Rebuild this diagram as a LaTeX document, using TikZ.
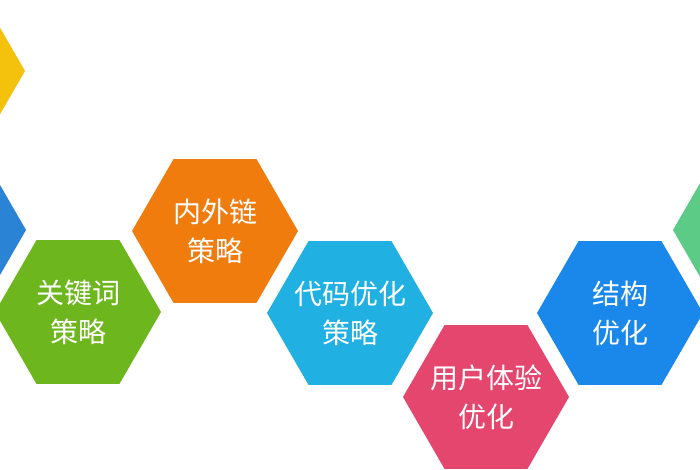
\documentclass[tikz,border=0pt]{standalone}
\usepackage{fontspec}
\usepackage{tikz}
\usetikzlibrary{shapes.geometric}
\newfontfamily\cjk{Noto Sans CJK SC}
\definecolor{hexYellow}{RGB}{244, 194, 13}
\definecolor{hexBlueLeft}{RGB}{43, 131, 214}
\definecolor{hexGreen}{RGB}{110, 182, 30}
\definecolor{hexOrange}{RGB}{240, 124, 14}
\definecolor{hexCyan}{RGB}{32, 176, 225}
\definecolor{hexPink}{RGB}{228, 70, 110}
\definecolor{hexBlue}{RGB}{26, 135, 234}
\definecolor{hexMint}{RGB}{92, 203, 134}

\begin{document}
\begin{tikzpicture} [
        x=1pt, y=-1pt,
        hex/.style={regular polygon, regular polygon sides=6, minimum size=166pt, inner sep=0pt},
        hex text/.style={text=white, font=\cjk\fontsize{28pt}{39pt}\selectfont, align=center, inner sep=0pt},
    ]

    \useasboundingbox (0,0) rectangle (700,470);
    \clip (0,0) rectangle (700,470);
    \fill[white] (0,0) rectangle (700,470);

    \node[hex, fill=hexYellow]   (seo)       at (-58, 71)  {};
    \node[hex, fill=hexBlueLeft] (site)      at (-57, 230) {};
    \node[hex, fill=hexGreen]    (keyword)   at (78, 312)  {};
    \node[hex, fill=hexOrange]   (links)     at (215, 231) {};
    \node[hex, fill=hexCyan]     (code)      at (350, 313) {};
    \node[hex, fill=hexPink]     (ux)        at (486, 397) {};
    \node[hex, fill=hexBlue]     (structure) at (620, 313) {};
    \node[hex, fill=hexMint]     (content)   at (756, 230) {};

    \node[hex text] at (keyword)   {关键词\\策略};
    \node[hex text] at (links)     {内外链\\策略};
    \node[hex text] at (code)      {代码优化\\策略};
    \node[hex text] at (ux)        {用户体验\\优化};
    \node[hex text] at (structure) {结构\\优化};

    \end{tikzpicture}
\end{document}
